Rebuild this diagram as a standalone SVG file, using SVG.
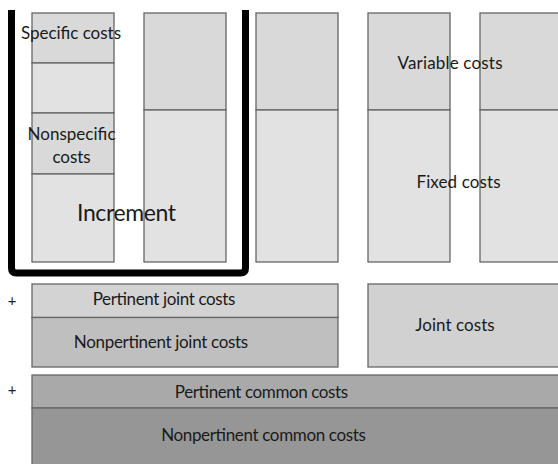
<svg xmlns="http://www.w3.org/2000/svg" width="558" height="464" viewBox="0 0 558 464">
<style>
  .b { stroke:#666; stroke-width:1.3; }
  .d { fill:#d9d9d9; }
  .l { fill:#e2e2e2; }
  .t { font-family:"Lato","Liberation Sans",sans-serif; font-size:17px; fill:#1a1a1a; text-anchor:middle; }
</style>
<rect width="558" height="464" fill="#ffffff"/>
<g id="col1">
  <rect class="b d" x="32" y="13" width="82" height="50"/>
  <rect class="b l" x="32" y="63" width="82" height="50"/>
  <rect class="b d" x="32" y="113" width="82" height="61"/>
  <rect class="b l" x="32" y="174" width="82" height="88"/>
</g>
<g id="col2">
  <rect class="b d" x="144" y="13" width="82" height="97"/>
  <rect class="b l" x="144" y="110" width="82" height="152"/>
</g>
<g id="col3">
  <rect class="b d" x="256" y="13" width="82" height="97"/>
  <rect class="b l" x="256" y="110" width="82" height="152"/>
</g>
<g id="col4">
  <rect class="b d" x="368" y="13" width="82" height="97"/>
  <rect class="b l" x="368" y="110" width="82" height="152"/>
</g>
<g id="col5">
  <rect class="b d" x="480" y="13" width="82" height="97"/>
  <rect class="b l" x="480" y="110" width="82" height="152"/>
</g>
<g id="increment-frame">
  <path d="M11.5,10 V268 Q11.5,273 16.5,273 H240.5 Q245.5,273 245.5,268 V10" fill="none" stroke="#000" stroke-width="7"/>
</g>
<g id="joint">
  <rect class="b" x="32" y="284" width="306" height="33.5" fill="#d3d3d3"/>
  <rect class="b" x="32" y="317.5" width="306" height="49.5" fill="#bfbfbf"/>
  <rect class="b" x="368" y="284" width="196" height="83" fill="#d1d1d1"/>
</g>
<g id="common">
  <rect class="b" x="32" y="375" width="532" height="33" fill="#a9a9a9"/>
  <rect class="b" x="32" y="408" width="532" height="62" fill="#969696"/>
</g>
<g id="labels">
  <text class="t" x="71" y="38.5" textLength="100">Specific costs</text>
  <text class="t" x="71.5" y="140" textLength="88">Nonspecific</text>
  <text class="t" x="71.5" y="162.5" textLength="38">costs</text>
  <text class="t" x="126.5" y="221" style="font-size:23px" textLength="99">Increment</text>
  <text class="t" x="450" y="69" textLength="105">Variable costs</text>
  <text class="t" x="458.5" y="187.5" textLength="84">Fixed costs</text>
  <text class="t" x="164" y="305" textLength="142.7">Pertinent joint costs</text>
  <text class="t" x="161" y="347.5" textLength="174.3">Nonpertinent joint costs</text>
  <text class="t" x="455" y="330.5" textLength="79.3">Joint costs</text>
  <text class="t" x="261.5" y="397.5" textLength="173.3">Pertinent common costs</text>
  <text class="t" x="263.5" y="441" textLength="204.7">Nonpertinent common costs</text>
  <text class="t" x="12" y="306" style="font-size:15px;fill:#222">+</text>
  <text class="t" x="12" y="394.5" style="font-size:15px;fill:#222">+</text>
</g>
</svg>
